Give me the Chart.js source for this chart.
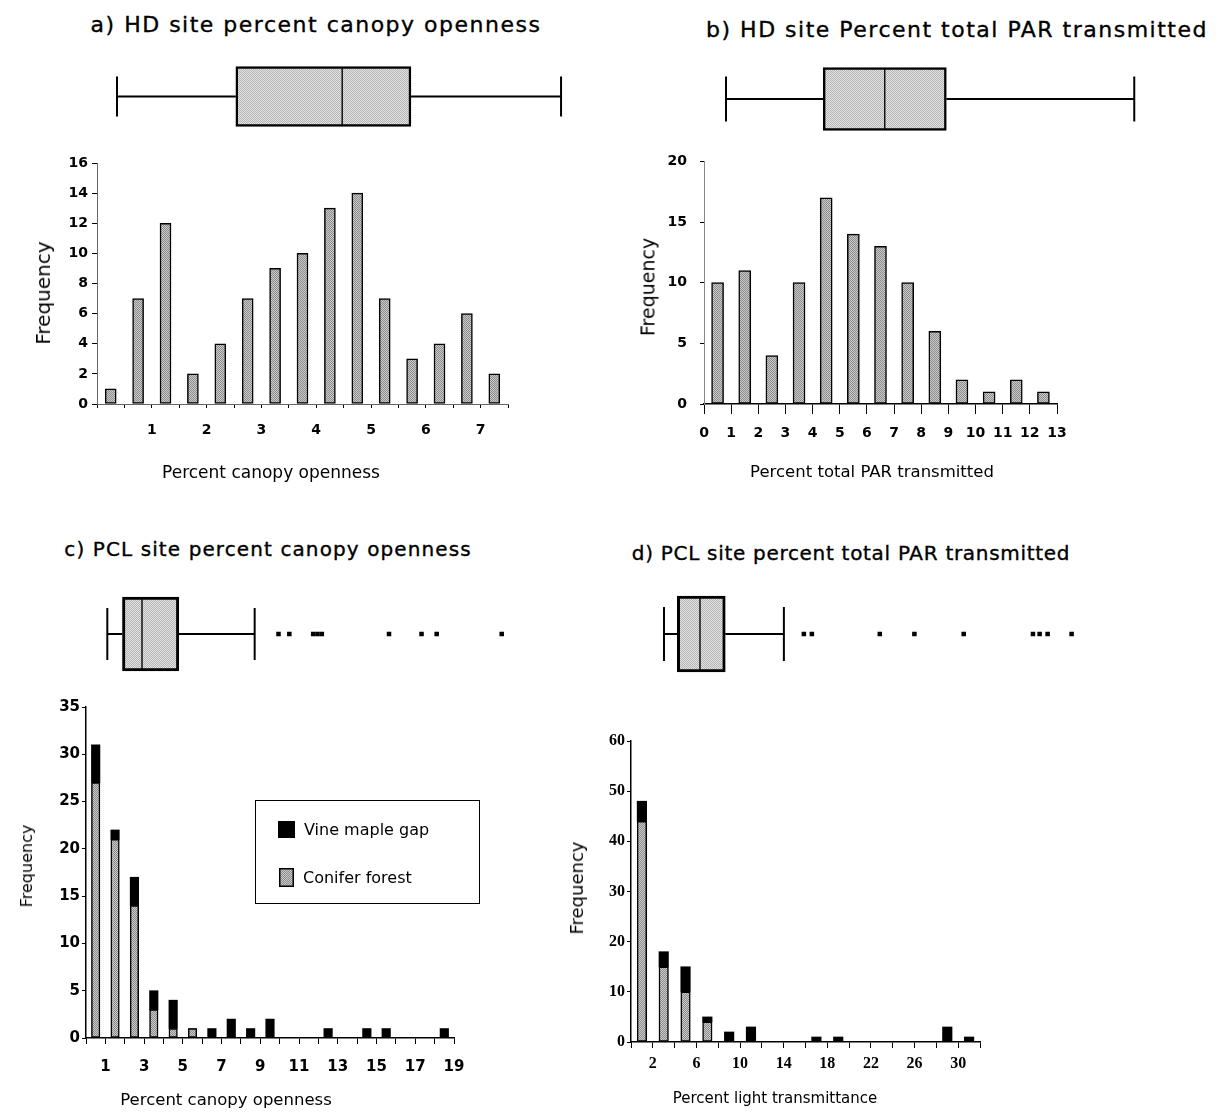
<!DOCTYPE html>
<html>
<head>
<meta charset="utf-8">
<script src="https://cdn.jsdelivr.net/npm/chart.js@4/dist/chart.umd.min.js"></script>
<style>
  body { margin: 0; background: #fff; }
  #page { position: relative; width: 1226px; height: 1115px; overflow: hidden; font-family: "DejaVu Sans", sans-serif; color: #000; }
  #page canvas { position: absolute; }
  .t { position: absolute; white-space: nowrap; line-height: 1; transform: translate(-50%, -50%); }
  .title { -webkit-text-stroke: 0.35px #000; }
  .rot { transform: translate(-50%, -50%) rotate(-90deg); }
  #legend { position: absolute; left: 255px; top: 800px; width: 225px; height: 104px; border: 1px solid #000; box-sizing: border-box; }
  #legend .row { position: absolute; display: flex; align-items: center; font-size: 16px; white-space: nowrap; }
  #legend canvas { position: static !important; margin-right: 9px; }
</style>
</head>
<body>
<div id="page">
  <!-- panel titles -->
  <div class="t title" style="left:316px;top:25px;font-size:22px;letter-spacing:1.5px">a) HD site percent canopy openness</div>
  <div class="t title" style="left:957px;top:30px;font-size:22px;letter-spacing:1.5px">b) HD site Percent total PAR transmitted</div>
  <div class="t title" style="left:268px;top:549px;font-size:20px;letter-spacing:1.1px">c) PCL site percent canopy openness</div>
  <div class="t title" style="left:851px;top:553px;font-size:20px;letter-spacing:0.7px">d) PCL site percent total PAR transmitted</div>

  <!-- box plots -->
  <canvas id="boxA" width="480" height="81" style="left:100px;top:56px"></canvas>
  <canvas id="boxB" width="440" height="82" style="left:710px;top:58px"></canvas>
  <canvas id="boxC" width="420" height="88" style="left:95px;top:590px"></canvas>
  <canvas id="boxD" width="440" height="88" style="left:650px;top:590px"></canvas>

  <!-- histograms -->
  <canvas id="histA" width="560" height="330" style="left:0px;top:150px"></canvas>
  <canvas id="histB" width="626" height="340" style="left:600px;top:140px"></canvas>
  <canvas id="histC" width="560" height="400" style="left:0px;top:690px"></canvas>
  <canvas id="histD" width="656" height="370" style="left:570px;top:725px"></canvas>

  <!-- axis titles -->
  <div class="t" style="left:271px;top:472px;font-size:17px">Percent canopy openness</div>
  <div class="t" style="left:872px;top:472px;font-size:16.5px">Percent total PAR transmitted</div>
  <div class="t" style="left:226px;top:1100px;font-size:16.5px">Percent canopy openness</div>
  <div class="t" style="left:775px;top:1098px;font-size:15px">Percent light transmittance</div>
  <div class="t rot" style="left:43px;top:293px;font-size:20px">Frequency</div>
  <div class="t rot" style="left:648px;top:287px;font-size:19px">Frequency</div>
  <div class="t rot" style="left:27px;top:866px;font-size:16px">Frequency</div>
  <div class="t rot" style="left:577px;top:888px;font-size:18px">Frequency</div>

  <div id="legend"></div>
</div>

<script>
// a) HD site, percent canopy openness (bins of 0.5)
const aBins = [0.25, 0.75, 1.25, 1.75, 2.25, 2.75, 3.25, 3.75, 4.25, 4.75, 5.25, 5.75, 6.25, 6.75, 7.25];
const aFreq = [1, 7, 12, 2, 4, 7, 9, 10, 13, 14, 7, 3, 4, 6, 2];
const aTicks = [1, 2, 3, 4, 5, 6, 7];
const aBox = [0.2, 2.1, 3.8, 4.9, 7.3]; // min, q1, median, q3, max

// b) HD site, percent total PAR transmitted
const bBins = [0.5, 1.5, 2.5, 3.5, 4.5, 5.5, 6.5, 7.5, 8.5, 9.5, 10.5, 11.5, 12.5];
const bFreq = [10, 11, 4, 10, 17, 14, 13, 10, 6, 2, 1, 2, 1];
const bTicks = [0, 1, 2, 3, 4, 5, 6, 7, 8, 9, 10, 11, 12, 13];
const bBox = [0.2, 3.2, 5.1, 7.0, 12.8];

// c) PCL site, percent canopy openness
const cBins = [0.5, 1.5, 2.5, 3.5, 4.5, 5.5, 6.5, 7.5, 8.5, 9.5, 10.5, 11.5, 12.5, 13.5, 14.5, 15.5, 16.5, 17.5, 18.5];
const cConifer = [27, 21, 14, 3, 1, 1, 0, 0, 0, 0, 0, 0, 0, 0, 0, 0, 0, 0, 0];
const cVine = [4, 1, 3, 2, 3, 0, 1, 2, 1, 2, 0, 0, 1, 0, 1, 1, 0, 0, 1];
const cTicks = [1, 3, 5, 7, 9, 11, 13, 15, 17, 19];
const cBox = [0.3, 1.0, 1.9, 3.6, 7.1];
const cOutliers = [8.2, 8.7, 9.8, 10.0, 10.2, 13.3, 14.8, 15.5, 18.5];

// d) PCL site, percent light transmittance (bins of 2)
const dBins = [1, 3, 5, 7, 9, 11, 13, 15, 17, 19, 21, 23, 25, 27, 29, 31];
const dConifer = [44, 15, 10, 4, 0, 0, 0, 0, 0, 0, 0, 0, 0, 0, 0, 0];
const dVine = [4, 3, 5, 1, 2, 3, 0, 0, 1, 1, 0, 0, 0, 0, 3, 1];
const dTicks = [2, 6, 10, 14, 18, 22, 26, 30];
const dBox = [0.4, 1.4, 3.1, 5.0, 9.4];
const dOutliers = [10.9, 11.5, 16.6, 19.2, 22.9, 28.1, 28.6, 29.2, 31.0];

const sans = '"DejaVu Sans", sans-serif';

// dithered grey fill, like the scanned stipple
function stippleTile(dark, light) {
  const t = document.createElement('canvas');
  t.width = 4; t.height = 4;
  const g = t.getContext('2d');
  g.fillStyle = light; g.fillRect(0, 0, 4, 4);
  g.fillStyle = dark;
  for (let y = 0; y < 4; y++) for (let x = (y % 2); x < 4; x += 2) g.fillRect(x, y, 1, 1);
  return t;
}
const barTile = stippleTile('#8c8c8c', '#cacaca');
const boxTile = stippleTile('#b4b4b4', '#e4e4e4');
const pat = tile => document.createElement('canvas').getContext('2d').createPattern(tile, 'repeat');
const barFill = pat(barTile);
const boxFill = pat(boxTile);

const points = (xs, ys) => xs.map((x, i) => ({ x: x, y: ys[i] }));

function histogram(id, o) {
  return new Chart(document.getElementById(id), {
    type: 'bar',
    data: { datasets: o.datasets },
    options: {
      responsive: false, animation: false, events: [],
      layout: { padding: o.pad },
      plugins: { legend: { display: false }, tooltip: { enabled: false } },
      scales: {
        x: {
          type: 'linear', min: o.xMin, max: o.xMax, offset: false, stacked: true,
          border: { display: true, color: o.xAxisColor, width: o.xAxisWidth },
          grid: { offset: false, drawOnChartArea: false, drawTicks: true, tickLength: o.xTickLen, tickColor: '#000', tickWidth: 1 },
          ticks: {
            stepSize: o.xStep, autoSkip: false, maxRotation: 0, padding: o.xPad, color: '#000', font: o.font,
            callback: v => o.xLabels.includes(v) ? String(v) : ''
          },
          afterFit: s => { s.height = o.xH; }
        },
        y: {
          type: 'linear', min: 0, max: o.yMax, stacked: true,
          border: { display: true, color: o.yAxisColor, width: o.yAxisWidth },
          grid: { drawOnChartArea: false, drawTicks: true, tickLength: o.yTickLen, tickColor: '#000', tickWidth: 1 },
          ticks: { stepSize: o.yStep, padding: o.yPad, color: '#000', font: o.font },
          afterFit: s => { s.width = o.yW; }
        }
      }
    }
  });
}

function boxplot(id, o) {
  const [lo, q1, med, q3, hi] = o.box;
  const whisker = {
    type: 'line', borderColor: '#000', borderWidth: 2, clip: false,
    pointStyle: 'line', pointRotation: 90, pointRadius: [0, o.cap],
    pointBorderWidth: 2, pointBorderColor: '#000', pointHoverRadius: 0
  };
  const half = {
    type: 'bar', indexAxis: 'y', grouped: false, backgroundColor: boxFill, clip: false,
    borderColor: '#000', borderSkipped: false, barThickness: o.thick
  };
  const bw = o.bw;
  const datasets = [
    Object.assign({ data: [{ x: q1, y: 0 }, { x: lo, y: 0 }] }, whisker),
    Object.assign({ data: [{ x: q3, y: 0 }, { x: hi, y: 0 }] }, whisker),
    Object.assign({ data: [{ y: 0, x: [q1, med] }], borderWidth: { top: bw, bottom: bw, left: bw, right: 1 } }, half),
    Object.assign({ data: [{ y: 0, x: [med, q3] }], borderWidth: { top: bw, bottom: bw, left: 1, right: bw } }, half)
  ];
  if (o.out) {
    datasets.push({
      type: 'scatter', data: o.out.map(v => ({ x: v, y: 0 })), clip: false,
      pointStyle: 'rect', pointRadius: 3.2, pointBackgroundColor: '#000', pointBorderWidth: 0
    });
  }
  return new Chart(document.getElementById(id), {
    type: 'bar',
    data: { datasets: datasets },
    options: {
      responsive: false, animation: false, events: [],
      layout: { autoPadding: false, padding: 0 },
      plugins: { legend: { display: false }, tooltip: { enabled: false } },
      scales: {
        x: { type: 'linear', display: false, min: o.xMin, max: o.xMax, offset: false },
        y: { type: 'linear', display: false, min: -1, max: 1, offset: false }
      }
    }
  });
}

// box plots above each histogram
boxplot('boxA', { box: aBox, xMin: -0.072, xMax: 7.603, thick: 60, cap: 20, bw: 2.5 });
boxplot('boxB', { box: bBox, xMin: -0.294, xMax: 13.286, thick: 63, cap: 22.5, bw: 2.5 });
boxplot('boxC', { box: cBox, out: cOutliers, xMin: -0.268, xMax: 19.114, thick: 74, cap: 26, bw: 3 });
boxplot('boxD', { box: dBox, out: dOutliers, xMin: -0.651, xMax: 32.382, thick: 76, cap: 27, bw: 3 });

const greyBar = { backgroundColor: barFill, borderColor: '#000', borderWidth: 1.5, borderSkipped: false };

histogram('histA', {
  datasets: [Object.assign({ data: points(aBins, aFreq), barThickness: 11 }, greyBar)],
  pad: { top: 13, right: 52, left: 0, bottom: 0 }, yW: 97, xH: 76,
  xMin: 0, xMax: 7.5, xStep: 0.5, xLabels: aTicks, yMax: 16, yStep: 2,
  xTickLen: 4, xPad: 14, yTickLen: 5, yPad: 4,
  xAxisColor: '#666', xAxisWidth: 1, yAxisColor: '#666', yAxisWidth: 1,
  font: { family: sans, size: 14, weight: 'bold' }
});

histogram('histB', {
  datasets: [Object.assign({ data: points(bBins, bFreq), barThickness: 12 }, greyBar)],
  pad: { top: 12, right: 169, left: 0, bottom: 0 }, yW: 104, xH: 76,
  xMin: 0, xMax: 13, xStep: 1, xLabels: bTicks, yMax: 20, yStep: 5,
  xTickLen: 10, xPad: 11, yTickLen: 4, yPad: 13,
  xAxisColor: '#000', xAxisWidth: 1.5, yAxisColor: '#888', yAxisWidth: 1,
  font: { family: sans, size: 14, weight: 'bold' }
});

const cChart = histogram('histC', {
  datasets: [
    Object.assign({ label: 'Conifer forest', data: points(cBins, cConifer), barThickness: 8.5 }, greyBar),
    { label: 'Vine maple gap', data: points(cBins, cVine), barThickness: 8.5, backgroundColor: '#000', borderColor: '#000', borderWidth: 0 }
  ],
  pad: { top: 17, right: 106, left: 0, bottom: 0 }, yW: 86, xH: 52,
  xMin: 0, xMax: 19, xStep: 1, xLabels: cTicks, yMax: 35, yStep: 5,
  xTickLen: 6, xPad: 14, yTickLen: 4, yPad: 2,
  xAxisColor: '#000', xAxisWidth: 1.5, yAxisColor: '#000', yAxisWidth: 1.5,
  font: { family: sans, size: 15, weight: 'bold' }
});

histogram('histD', {
  datasets: [
    Object.assign({ label: 'Conifer forest', data: points(dBins, dConifer), barThickness: 9.5 }, greyBar),
    { label: 'Vine maple gap', data: points(dBins, dVine), barThickness: 9.5, backgroundColor: '#000', borderColor: '#000', borderWidth: 0 }
  ],
  pad: { top: 16, right: 246, left: 0, bottom: 0 }, yW: 61, xH: 53,
  xMin: 0, xMax: 32, xStep: 2, xLabels: dTicks, yMax: 60, yStep: 10,
  xTickLen: 6, xPad: 6, yTickLen: 4, yPad: 2,
  xAxisColor: '#000', xAxisWidth: 1.5, yAxisColor: '#000', yAxisWidth: 1.5,
  font: { family: '"Liberation Serif", serif', size: 16, weight: 'bold' }
});

// legend box for panel c, built from the chart's datasets (top series first)
(function () {
  const box = document.getElementById('legend');
  const rows = [{ top: 19, left: 22, w: 17, h: 17 }, { top: 67, left: 23, w: 15, h: 19 }];
  cChart.data.datasets.slice().reverse().forEach((ds, i) => {
    const r = rows[i];
    const row = document.createElement('div');
    row.className = 'row';
    row.style.left = r.left + 'px';
    row.style.top = r.top + 'px';
    const sw = document.createElement('canvas');
    sw.width = r.w; sw.height = r.h;
    const g = sw.getContext('2d');
    g.fillStyle = ds.backgroundColor === '#000' ? '#000' : g.createPattern(barTile, 'repeat');
    g.fillRect(0, 0, r.w, r.h);
    g.strokeStyle = '#000'; g.lineWidth = 1.5;
    g.strokeRect(0.75, 0.75, r.w - 1.5, r.h - 1.5);
    row.appendChild(sw);
    const label = document.createElement('span');
    label.textContent = ds.label;
    row.appendChild(label);
    box.appendChild(row);
  });
})();
</script>
</body>
</html>
